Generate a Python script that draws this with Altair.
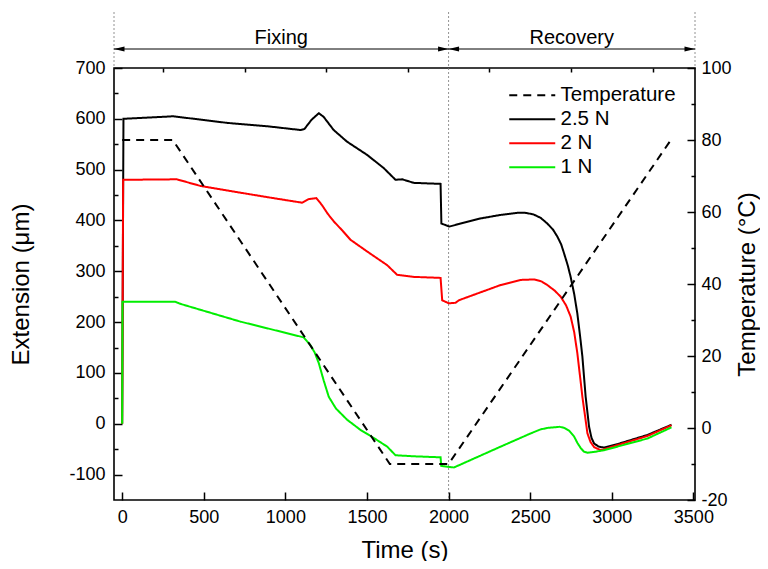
import altair as alt
import pandas as pd

# ---------------- data ----------------
series_names = ["Temperature", "2.5 N", "2 N", "1 N"]
series_colors = ["#000000", "#000000", "#ff0000", "#00ee00"]
series_dash = [[8, 6], [1, 0], [1, 0], [1, 0]]

t_25 = [0, 8, 313, 644, 900, 1092, 1117, 1160, 1205, 1234, 1296, 1378, 1501, 1603,
        1675, 1716, 1787, 1951, 1956, 2005, 2063, 2196, 2320, 2421, 2470, 2520, 2565,
        2605, 2640, 2667, 2690, 2708, 2730, 2748, 2770, 2789, 2805, 2820, 2840, 2861,
        2876, 2892, 2920, 2953, 3035, 3219, 3366]
v_25 = [0, 600, 605, 592, 585, 578, 580, 598, 611, 604, 578, 555, 529, 503,
        480, 481, 474, 472, 394, 388, 393, 404, 411, 415, 415, 412, 405,
        394, 382, 368, 353, 335, 312, 289, 255, 217, 175, 132, 53, -6,
        -28, -39, -45, -47, -40, -22, -2]

t_2 = [0, 6, 335, 479, 681, 887, 1102, 1143, 1190, 1225, 1260, 1297, 1350, 1399,
       1501, 1624, 1685, 1787, 1951, 1961, 2002, 2043, 2063, 2319, 2442, 2524, 2570,
       2605, 2650, 2687, 2720, 2748, 2770, 2789, 2805, 2820, 2851, 2870, 2892, 2933,
       3035, 3219, 3366]
v_2 = [0, 480, 481, 468, 457, 446, 435, 442, 444, 430, 413, 398, 380, 362,
       339, 312, 293, 289, 287, 243, 237, 238, 243, 273, 283, 284, 280,
       273, 262, 250, 233, 211, 180, 139, 95, 53, -19, -36, -46, -52,
       -42, -24, -3]

t_1 = [0, 2, 325, 356, 724, 887, 1112, 1153, 1180, 1205, 1235, 1266, 1310, 1378,
       1460, 1542, 1624, 1675, 1787, 1951, 1955, 2033, 2319, 2503, 2564, 2610, 2646,
       2680, 2708, 2740, 2769, 2790, 2810, 2830, 2851, 2900, 2953, 3219, 3366]
v_1 = [0, 240, 240, 236, 201, 188, 170, 155, 140, 119, 85, 53, 30, 8,
       -12, -28, -45, -62, -64, -66, -83, -86, -45, -19, -11, -8, -7,
       -6, -8, -14, -25, -38, -48, -55, -57, -55, -52, -29, -7]

temp_t = [0, 310, 1640, 2000, 3362]
temp_v = [80, 80, -10, -10, 80]

x_major = list(range(0, 3501, 500))
x_minor = list(range(250, 3501, 500))
yl_major = list(range(-100, 701, 100))
yl_minor = list(range(-50, 701, 100))
yr_major = list(range(-20, 101, 20))
yr_minor = list(range(-10, 101, 20))

phase_bounds = [-50, 2000, 3510]
phase_names = ["Fixing", "Recovery"]

# ---------------- tables ----------------
rows = []
for name, ts, vs in [("2.5 N", t_25, v_25), ("2 N", t_2, v_2), ("1 N", t_1, v_1)]:
    for i, (t, v) in enumerate(zip(ts, vs)):
        rows.append({"t": t, "v": v, "series": name, "i": i})
df_ext = pd.DataFrame(rows)
df_temp = pd.DataFrame({"t": temp_t, "v": temp_v, "series": "Temperature",
                        "i": list(range(len(temp_t)))})

df_side = pd.DataFrame({"t": [phase_bounds[0], phase_bounds[-1]]})
df_mid = pd.DataFrame({"t": [phase_bounds[1]]})
df_arrows = pd.DataFrame({"t": phase_bounds[:-1], "t2": phase_bounds[1:],
                          "name": phase_names})
df_arrows["mid"] = (df_arrows["t"] + df_arrows["t2"]) / 2
df_head_l = pd.DataFrame({"t": phase_bounds[:-1]})
df_head_r = pd.DataFrame({"t": phase_bounds[1:]})

FONT = "Liberation Sans"
LABEL = "'' + datum.value"
xscale = alt.Scale(domain=[-50, 3510], nice=False, zero=False)
ylscale = alt.Scale(domain=[-150, 700], nice=False, zero=False)
yrscale = alt.Scale(domain=[-20, 100], nice=False, zero=False)

legend = alt.Legend(title=None, orient="none", legendX=408, legendY=17,
                    symbolType="M-3,0H3", symbolSize=235, symbolStrokeWidth=2,
                    labelOffset=18, labelFontSize=20.5, labelFont=FONT,
                    labelColor="black", rowPadding=3)
color = alt.Color("series:N", scale=alt.Scale(domain=series_names, range=series_colors),
                  legend=legend)
dash = alt.StrokeDash("series:N", scale=alt.Scale(domain=series_names, range=series_dash),
                      legend=legend)

ext = alt.Chart(df_ext).mark_line(strokeWidth=2).encode(
    x=alt.X("t:Q", scale=xscale,
            axis=alt.Axis(values=x_major, title="Time (s)", offset=-8, tickSize=8,
                          labelPadding=8, titlePadding=12, labelExpr=LABEL)),
    y=alt.Y("v:Q", scale=ylscale,
            axis=alt.Axis(orient="left", values=yl_major, offset=-8, tickSize=8,
                          labelPadding=9, titlePadding=35, title="Extension (μm)",
                          labelExpr=LABEL)),
    color=color, strokeDash=dash, order="i:Q",
)

temp = alt.Chart(df_temp).mark_line(strokeWidth=2).encode(
    x=alt.X("t:Q", scale=xscale,
            axis=alt.Axis(values=x_minor, offset=-4, tickSize=4, labels=False, title=None)),
    y=alt.Y("v:Q", scale=yrscale,
            axis=alt.Axis(orient="right", values=yr_major, offset=-8, tickSize=8,
                          labelPadding=6, titlePadding=28, title="Temperature (°C)",
                          titleAngle=270, labelExpr=LABEL)),
    color=color, strokeDash=dash, order="i:Q",
)

minor_left = alt.Chart(df_ext).mark_line(opacity=0).encode(
    x=alt.X("t:Q", scale=xscale, axis=None),
    y=alt.Y("v:Q", scale=ylscale,
            axis=alt.Axis(orient="left", values=yl_minor, offset=-4, tickSize=4,
                          labels=False, title=None)),
    detail="series:N",
)
minor_right = alt.Chart(df_temp).mark_line(opacity=0).encode(
    x=alt.X("t:Q", scale=xscale, axis=None),
    y=alt.Y("v:Q", scale=yrscale,
            axis=alt.Axis(orient="right", values=yr_minor, offset=-4, tickSize=4,
                          labels=False, title=None)),
)

dotted = dict(color="#777777", strokeWidth=0.8, strokeDash=[2, 2])
side_rules = alt.Chart(df_side).mark_rule(**dotted).encode(
    x=alt.X("t:Q", scale=xscale, axis=None), y=alt.value(-56), y2=alt.value(0))
mid_rule = alt.Chart(df_mid).mark_rule(**dotted).encode(
    x=alt.X("t:Q", scale=xscale, axis=None), y=alt.value(-56), y2=alt.value(432))

arrow_lines = alt.Chart(df_arrows).mark_rule(color="black", strokeWidth=1).encode(
    x=alt.X("t:Q", scale=xscale, axis=None), x2="t2:Q", y=alt.value(-19))
arrow_text = alt.Chart(df_arrows).mark_text(font=FONT, fontSize=20, color="black",
                                           baseline="middle").encode(
    x=alt.X("mid:Q", scale=xscale, axis=None), y=alt.value(-30), text="name:N")
heads_l = alt.Chart(df_head_l).mark_point(shape="M0,0L2,-0.5L2,0.5Z", size=110,
                                          filled=True, color="black", opacity=1).encode(
    x=alt.X("t:Q", scale=xscale, axis=None), y=alt.value(-19))
heads_r = alt.Chart(df_head_r).mark_point(shape="M0,0L-2,-0.5L-2,0.5Z", size=110,
                                          filled=True, color="black", opacity=1).encode(
    x=alt.X("t:Q", scale=xscale, axis=None), y=alt.value(-19))

chart = alt.layer(
    side_rules, mid_rule, ext, temp, minor_left, minor_right,
    arrow_lines, heads_l, heads_r, arrow_text
).resolve_scale(y="independent").resolve_axis(x="independent", y="independent").properties(
    width=581, height=432,
    padding={"left": 106, "top": 60, "right": 65, "bottom": 61},
    autosize=alt.AutoSizeParams(type="none"),
).configure_view(stroke="black", strokeWidth=1.6).configure_axis(
    domain=False, grid=False, labelFont=FONT, labelFontSize=18, labelColor="black",
    titleFont=FONT, titleFontSize=24, titleFontWeight="normal", titleColor="black",
    tickColor="black", tickWidth=1.5,
)

chart.save("out.html", embed_options={"renderer": "svg", "actions": False})
